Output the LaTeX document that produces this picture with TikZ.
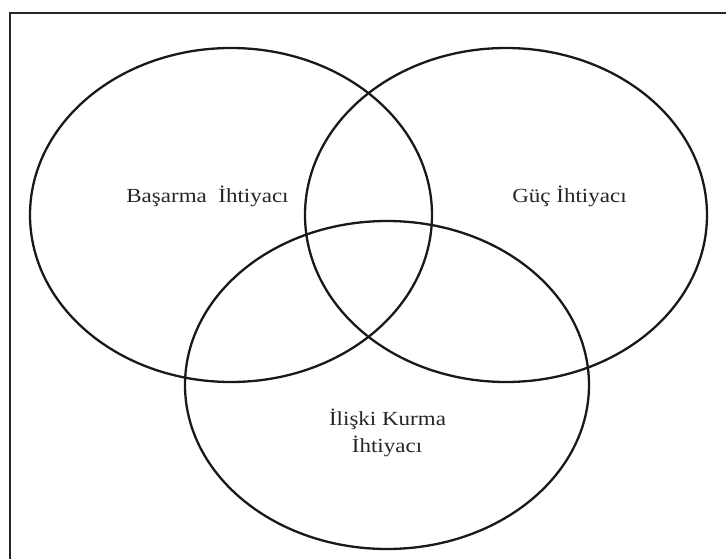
\documentclass[tikz,border=0pt]{standalone}
\usepackage{fontspec}
\setmainfont{Liberation Serif}
\newfontfamily\lblfont[FakeStretch=1.15]{Liberation Serif}
\begin{document}
\begin{tikzpicture}[x=1pt,y=-1pt,
  venn/.style={draw=black!90,line width=2.3pt},
  lbl/.style={font=\lblfont\fontsize{20}{27}\selectfont,text=black!85,inner sep=0pt},
  frame/.style={draw=black!85,line width=2.8pt}]
\useasboundingbox (0,0) rectangle (726,559);
\coordinate (tl) at (10,13);
\coordinate (tr) at (726,13);
\coordinate (bl) at (10,559);
\draw[frame] (tr) -- (tl) -- (bl);
\draw[venn] (231,215) ellipse [x radius=201, y radius=167];
\draw[venn] (506,215) ellipse [x radius=201, y radius=167];
\draw[venn] (387,385) ellipse [x radius=202, y radius=164];
\node[lbl,anchor=base] (a) at (207.5,203) {Başarma\ \ İhtiyacı};
\node[lbl,anchor=base] (g) at (569.5,202) {Güç İhtiyacı};
\node[lbl,anchor=base] (k1) at (387.5,425) {İlişki Kurma};
\node[lbl,anchor=base] (k2) at (387,452) {İhtiyacı};
\end{tikzpicture}
\end{document}
